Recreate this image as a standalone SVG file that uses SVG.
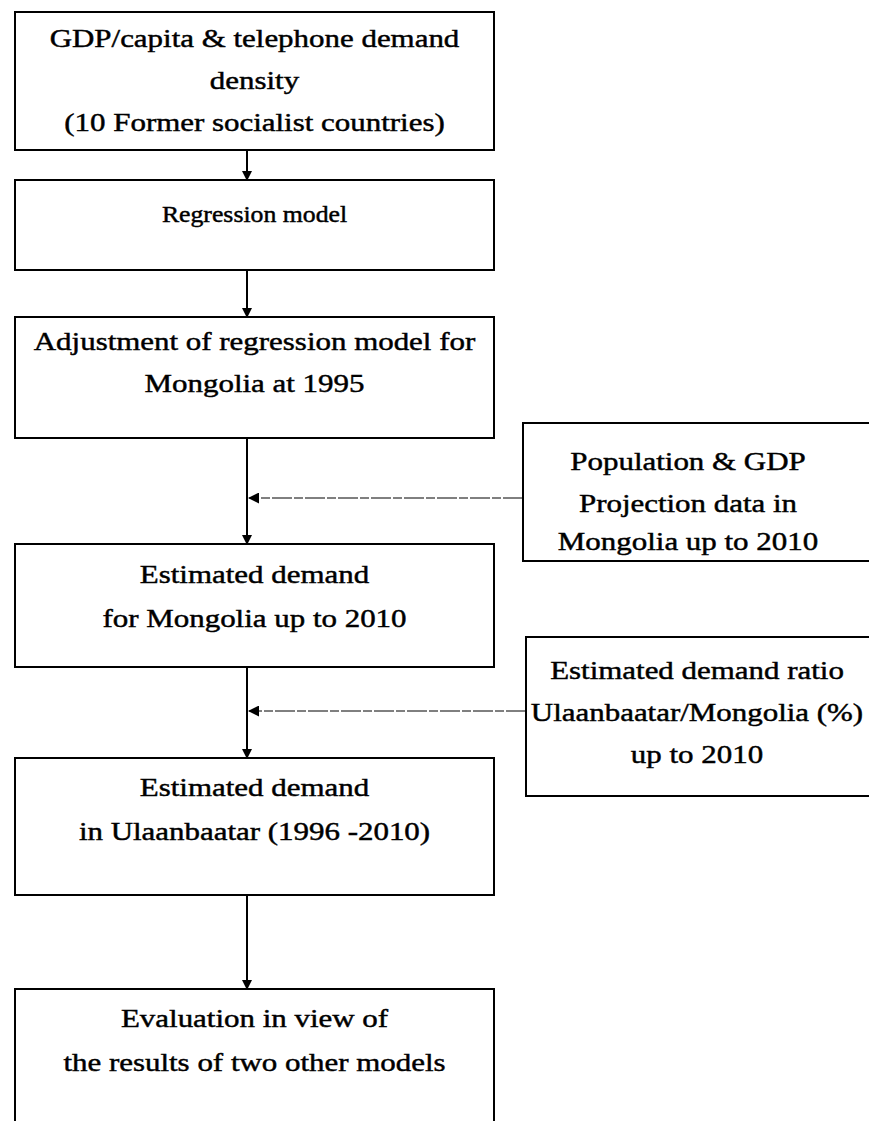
<svg xmlns="http://www.w3.org/2000/svg" width="869" height="1121" viewBox="0 0 869 1121">
  <style>
    .box { fill: #ffffff; stroke: #000000; stroke-width: 2; }
    .lbl { font-family: "Liberation Serif", "Times New Roman", serif; font-size: 26px; fill: #000000; stroke: #000000; stroke-width: 0.45; text-anchor: middle; }
    .small { font-size: 23px; }
    .flow { stroke: #000000; stroke-width: 2; fill: none; }
    .feed { stroke: #000000; stroke-width: 1; fill: none; stroke-dasharray: 20 2 9 2; }
    .head { fill: #000000; stroke: none; }
  </style>
  <defs>
    <marker id="down" markerWidth="10" markerHeight="10" refX="9" refY="5" orient="auto" markerUnits="userSpaceOnUse">
      <path class="head" d="M0,0 L10,5 L0,10 Z"/>
    </marker>
    <marker id="side" markerWidth="11" markerHeight="11" refX="10" refY="5.5" orient="auto" markerUnits="userSpaceOnUse">
      <path class="head" d="M0,0 L11,5.5 L0,11 Z"/>
    </marker>
  </defs>
  <rect width="869" height="1121" fill="#ffffff"/>

  <!-- connectors -->
  <g id="connectors">
    <line class="flow" x1="247" y1="150" x2="247" y2="180" marker-end="url(#down)"/>
    <line class="flow" x1="247" y1="270" x2="247" y2="317" marker-end="url(#down)"/>
    <line class="flow" x1="247" y1="438" x2="247" y2="544" marker-end="url(#down)"/>
    <line class="flow" x1="247" y1="667" x2="247" y2="758" marker-end="url(#down)"/>
    <line class="flow" x1="247" y1="895" x2="247" y2="989" marker-end="url(#down)"/>
    <line class="feed" x1="523" y1="498" x2="249" y2="498" marker-end="url(#side)"/>
    <line class="feed" x1="526" y1="711" x2="249" y2="711" marker-end="url(#side)"/>
  </g>

  <!-- step 1: source data -->
  <g id="node-source">
    <rect class="box" x="15" y="12" width="479" height="138"/>
    <g transform="translate(254.5 0) scale(1.19 1)">
      <text class="lbl" x="0" y="47">GDP/capita &amp; telephone demand</text>
      <text class="lbl" x="0" y="89">density</text>
      <text class="lbl" x="0" y="131">(10 Former socialist countries)</text>
    </g>
  </g>

  <!-- step 2 -->
  <g id="node-regression">
    <rect class="box" x="15" y="180" width="479" height="90"/>
    <g transform="translate(254.5 0) scale(1.12 1)">
      <text class="lbl small" x="0" y="222">Regression model</text>
    </g>
  </g>

  <!-- step 3 -->
  <g id="node-adjustment">
    <rect class="box" x="15" y="317" width="479" height="121"/>
    <g transform="translate(254.5 0) scale(1.19 1)">
      <text class="lbl" x="0" y="350">Adjustment of regression model for</text>
      <text class="lbl" x="0" y="392">Mongolia at 1995</text>
    </g>
  </g>

  <!-- step 4 -->
  <g id="node-national">
    <rect class="box" x="15" y="544" width="479" height="123"/>
    <g transform="translate(254.5 0) scale(1.19 1)">
      <text class="lbl" x="0" y="583">Estimated demand</text>
      <text class="lbl" x="0" y="627">for Mongolia up to 2010</text>
    </g>
  </g>

  <!-- step 5 -->
  <g id="node-city">
    <rect class="box" x="15" y="758" width="479" height="137"/>
    <g transform="translate(254.5 0) scale(1.19 1)">
      <text class="lbl" x="0" y="796">Estimated demand</text>
      <text class="lbl" x="0" y="840">in Ulaanbaatar (1996 -2010)</text>
    </g>
  </g>

  <!-- step 6 -->
  <g id="node-evaluation">
    <rect class="box" x="15" y="989" width="479" height="200"/>
    <g transform="translate(254.5 0) scale(1.19 1)">
      <text class="lbl" x="0" y="1027">Evaluation in view of</text>
      <text class="lbl" x="0" y="1071">the results of two other models</text>
    </g>
  </g>

  <!-- side input: projections -->
  <g id="node-projection">
    <rect class="box" x="523" y="423" width="380" height="138"/>
    <g transform="translate(688 0) scale(1.19 1)">
      <text class="lbl" x="0" y="470">Population &amp; GDP</text>
      <text class="lbl" x="0" y="512">Projection data in</text>
      <text class="lbl" x="0" y="550">Mongolia up to 2010</text>
    </g>
  </g>

  <!-- side input: city ratio -->
  <g id="node-ratio">
    <rect class="box" x="526" y="637" width="380" height="159"/>
    <g transform="translate(697 0) scale(1.19 1)">
      <text class="lbl" x="0" y="679">Estimated demand ratio</text>
      <text class="lbl" x="0" y="721">Ulaanbaatar/Mongolia (%)</text>
      <text class="lbl" x="0" y="763">up to 2010</text>
    </g>
  </g>
</svg>
